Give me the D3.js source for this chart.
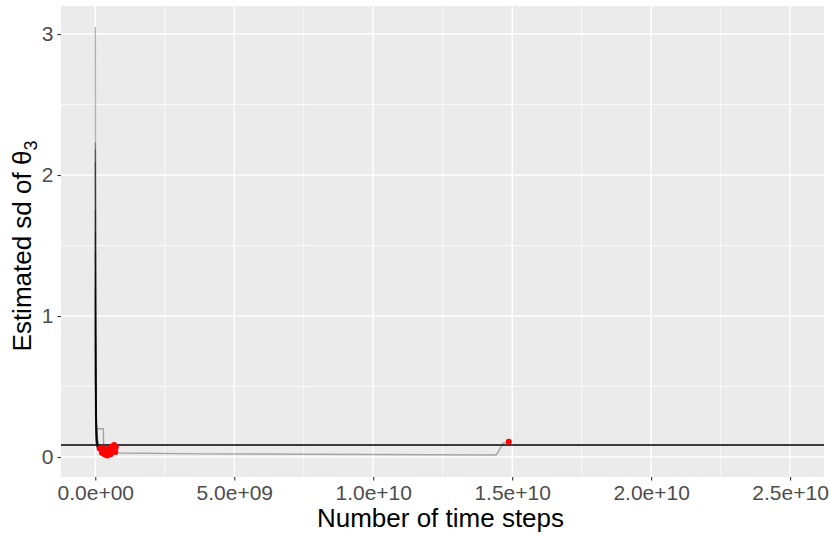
<!DOCTYPE html>
<html lang="en">
<head>
    <meta charset="UTF-8">
    <title>Estimated sd of theta3</title>
    <style>
        body { margin: 0; background: #fff; }
        text { font-family: 'Liberation Sans', Arial, sans-serif; }
        .tick text { fill: #4D4D4D; font-size: 21px; }
        .tick line { stroke: #333; }
        .axis-title { fill: #000; font-size: 26px; }
    </style>
</head>
<body>
<script src="https://d3js.org/d3.v7.min.js"></script>
<script>

    const size = {'width': 830, 'height': 541};
    const panel = {'left': 61, 'right': 824, 'top': 6, 'bottom': 477};

    // tick labels
    const xTicks = [0, 5e9, 1e10, 1.5e10, 2e10, 2.5e10];
    const xTickLabels = ['0.0e+00', '5.0e+09', '1.0e+10', '1.5e+10', '2.0e+10', '2.5e+10'];
    const xMinor = [2.5e9, 7.5e9, 1.25e10, 1.75e10, 2.25e10];
    const yTicks = [0, 1, 2, 3];
    const yMinor = [0.5, 1.5, 2.5];

    // reference level (horizontal black line)
    const refLevel = 0.085;

    // trajectories: [time steps, estimated sd]
    const run1 = [[2e6, 3.05], [1e7, 1.1], [3e7, 0.35], [6e7, 0.12], [1.5e8, 0.06], [3.5e8, 0.045], [5.0e8, 0.04]];
    const run2 = [[2e6, 2.23], [1.5e7, 0.9], [4e7, 0.25], [8e7, 0.09], [2e8, 0.05], [4.1e8, 0.03]];
    const run3 = [[3e6, 2.18], [1.2e7, 0.8], [3.5e7, 0.2], [9e7, 0.07], [2.5e8, 0.04], [6.2e8, 0.06]];
    const run4 = [[2e6, 2.09], [1e7, 0.95], [3e7, 0.3], [7e7, 0.1], [2e8, 0.055], [7.4e8, 0.07]];
    const run5 = [[3e6, 1.75], [1.5e7, 0.7], [4e7, 0.22], [1e8, 0.08], [3e8, 0.05], [5.5e8, 0.02]];
    const run6 = [[2e6, 1.6], [1e7, 0.6], [3e7, 0.18], [7e7, 0.2], [2.9e8, 0.2], [3.0e8, 0.07], [4.6e8, 0.05]];
    const run7 = [[2e6, 1.45], [1.2e7, 0.55], [3e7, 0.15], [8e7, 0.06], [2.2e8, 0.035], [3.8e8, 0.015]];
    const run8 = [[3e6, 1.3], [1e7, 0.5], [3.5e7, 0.16], [9e7, 0.07], [2.6e8, 0.06], [6.8e8, 0.085]];
    const run9 = [[2e6, 1.15], [1.3e7, 0.45], [4e7, 0.13], [1e8, 0.05], [3.2e8, 0.04], [5.8e8, 0.055]];
    const run10 = [[2e6, 1.0], [1e7, 0.4], [3e7, 0.12], [8e7, 0.06], [1.8e8, 0.045], [2.4e8, 0.03]];
    const run11 = [[3e6, 0.9], [1.5e7, 0.35], [4e7, 0.1], [1e8, 0.05], [3.1e8, 0.025], [4.4e8, 0.01]];
    const run12 = [[2e6, 0.8], [1e7, 0.3], [3e7, 0.11], [8e7, 0.07], [4e8, 0.075], [7.0e8, 0.045]];
    const run13 = [[2e6, 0.65], [1.2e7, 0.25], [3.5e7, 0.09], [9e7, 0.055], [2.2e8, 0.05], [1.6e8, 0.06]];
    const run14 = [[2e6, 1.2], [1.5e7, 0.5], [5e7, 0.12], [1.5e8, 0.045], [8e8, 0.028], [4e9, 0.022],
                   [1.2e10, 0.016], [1.4424e10, 0.014], [1.4676e10, 0.099], [1.4878e10, 0.108]];
    const runs = [run1, run2, run3, run4, run5, run6, run7, run8, run9, run10, run11, run12, run13, run14];

    // extra final estimates in the cluster
    const extraPoints = [[3.3e8, 0.02], [5.3e8, 0.03], [6.0e8, 0.075], [2.8e8, 0.065], [4.9e8, 0.06], [7.2e8, 0.035]];

    let svg = d3.select('body').append('svg')
        .attr('width', size.width)
        .attr('height', size.height);

    let x = d3.scaleLinear()
        .domain([-1.234e9, 2.622e10])
        .range([panel.left, panel.right]);

    let y = d3.scaleLinear()
        .domain([-0.142, 3.199])
        .range([panel.bottom, panel.top]);

    svg.append('rect')
        .attr('x', panel.left)
        .attr('y', panel.top)
        .attr('width', panel.right - panel.left)
        .attr('height', panel.bottom - panel.top)
        .style('fill', '#EBEBEB');

    let grid = svg.append('g');

    // minor grid
    grid.selectAll('.xminor').data(xMinor).enter().append('line')
        .attr('x1', d => x(d)).attr('x2', d => x(d))
        .attr('y1', panel.top).attr('y2', panel.bottom)
        .style('stroke', '#fff').style('stroke-width', 0.7);
    grid.selectAll('.yminor').data(yMinor).enter().append('line')
        .attr('y1', d => y(d)).attr('y2', d => y(d))
        .attr('x1', panel.left).attr('x2', panel.right)
        .style('stroke', '#fff').style('stroke-width', 0.7);

    // major grid
    grid.selectAll('.xmajor').data(xTicks).enter().append('line')
        .attr('x1', d => x(d)).attr('x2', d => x(d))
        .attr('y1', panel.top).attr('y2', panel.bottom)
        .style('stroke', '#fff').style('stroke-width', 1.4);
    grid.selectAll('.ymajor').data(yTicks).enter().append('line')
        .attr('y1', d => y(d)).attr('y2', d => y(d))
        .attr('x1', panel.left).attr('x2', panel.right)
        .style('stroke', '#fff').style('stroke-width', 1.4);

    let plot = svg.append('g');

    let line = d3.line()
        .x(d => x(d[0]))
        .y(d => y(d[1]));

    plot.selectAll('.run')
        .data(runs)
        .enter().append('path')
        .attr('d', line)
        .style('fill', 'none')
        .style('stroke', '#000')
        .style('stroke-opacity', 0.3)
        .style('stroke-width', 1.4);

    plot.append('line')
        .attr('x1', panel.left).attr('x2', panel.right)
        .attr('y1', y(refLevel)).attr('y2', y(refLevel))
        .style('stroke', '#000')
        .style('stroke-width', 1.4);

    let finals = runs.map(r => r[r.length - 1]).concat(extraPoints);

    plot.selectAll('.final')
        .data(finals)
        .enter().append('circle')
        .attr('cx', d => x(d[0]))
        .attr('cy', d => y(d[1]))
        .attr('r', 3)
        .style('fill', '#FF0000');

    // axes
    let xAxis = svg.append('g')
        .attr('transform', 'translate(0,' + panel.bottom + ')')
        .call(d3.axisBottom(x)
            .tickValues(xTicks)
            .tickFormat((d, i) => xTickLabels[i])
            .tickSize(3.6)
            .tickPadding(4));
    xAxis.select('.domain').remove();
    xAxis.selectAll('.tick line').style('stroke', '#333').style('stroke-width', 1.1);
    xAxis.selectAll('.tick text').attr('y', 23).attr('dy', 0);

    let yAxis = svg.append('g')
        .attr('transform', 'translate(' + panel.left + ',0)')
        .call(d3.axisLeft(y)
            .tickValues(yTicks)
            .tickFormat(d3.format('d'))
            .tickSize(3.6)
            .tickPadding(4));
    yAxis.select('.domain').remove();
    yAxis.selectAll('.tick line').style('stroke', '#333').style('stroke-width', 1.1);

    svg.append('text')
        .attr('class', 'axis-title')
        .attr('x', (panel.left + panel.right) / 2 - 2)
        .attr('y', 527)
        .attr('text-anchor', 'middle')
        .text('Number of time steps');

    let yTitle = svg.append('text')
        .attr('class', 'axis-title')
        .attr('transform', 'translate(31,' + 246 + ') rotate(-90)')
        .attr('text-anchor', 'middle');
    yTitle.append('tspan').text('Estimated sd of θ');
    yTitle.append('tspan').attr('dy', 6).style('font-size', '18px').text('3');

</script>
</body>
</html>
